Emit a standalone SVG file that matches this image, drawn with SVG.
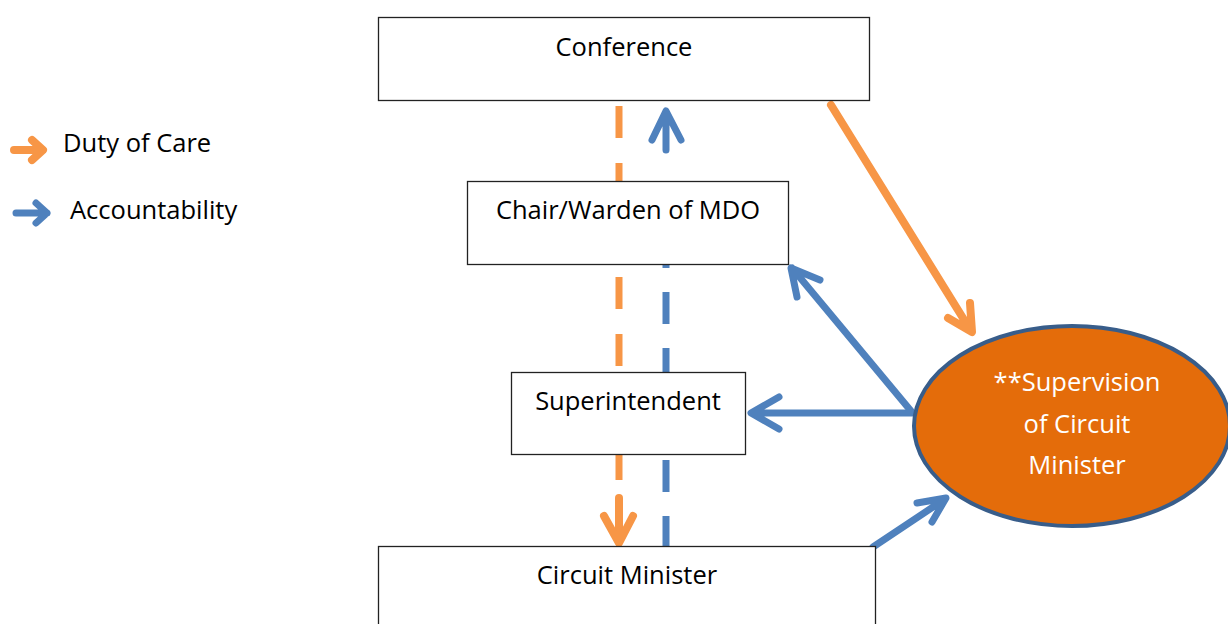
<svg xmlns="http://www.w3.org/2000/svg" width="1228" height="624" viewBox="0 0 1228 624">
<style>
.box{fill:#fff;stroke:#222;stroke-width:1.3}
.t{font-family:"Open Sans","Liberation Sans",Arial,sans-serif;font-size:25.5px;fill:#000;text-anchor:middle}
.lt{font-family:"Open Sans","Liberation Sans",Arial,sans-serif;font-size:25.5px;fill:#000}
.wt{font-family:"Open Sans","Liberation Sans",Arial,sans-serif;font-size:25.5px;fill:#fff;text-anchor:middle}
.or{stroke:#F79646;stroke-width:8;fill:none;stroke-linecap:round;stroke-linejoin:round}
.bl{stroke:#4F81BD;stroke-width:7;fill:none;stroke-linecap:round;stroke-linejoin:round}
.ordash{stroke:#F79646;stroke-width:7;fill:none;stroke-dasharray:32 25}
.bldash{stroke:#4F81BD;stroke-width:7;fill:none;stroke-dasharray:32 24}
</style>
<rect width="1228" height="624" fill="#fff"/>
<g id="legend">
<path class="or" d="M14 150 H42 M32 140 L43 150 L32 160"/>
<text class="lt" x="63" y="152">Duty of Care</text>
<path class="bl" d="M16 213 H47 M36 203 L47 213 L36 223"/>
<text class="lt" x="70" y="219">Accountability</text>
</g>
<g id="connectors">
<path class="ordash" d="M619 106 V505"/>
<path class="or" d="M619 498 V540"/>
<path class="or" d="M604 516 L619 543 L633 516"/>
<path class="bldash" d="M666 548 V265"/>
<path class="bl" d="M666 112 V150 M652 140 L666 111 L681 140"/>
<path class="or" d="M831 105 L971 331 M948 318 L972 332 L970 303"/>
<path class="bl" d="M911 411 L792 268 M820 280 L791 268 L797 297"/>
<path class="bl" d="M912 413 H752 M779 397 L751 413 L779 429"/>
<path class="bl" d="M873 547 L945 499 M917 503 L946 498 L932 522"/>
</g>
<g id="conference">
<rect class="box" x="378.5" y="17.5" width="491" height="83"/>
<text class="t" x="624" y="56">Conference</text>
</g>
<g id="chair">
<rect class="box" x="467.5" y="181.5" width="321" height="83"/>
<text class="t" x="628" y="219">Chair/Warden of MDO</text>
</g>
<g id="superintendent">
<rect class="box" x="511.5" y="372.5" width="234" height="82"/>
<text class="t" x="628" y="410">Superintendent</text>
</g>
<g id="circuit-minister">
<rect class="box" x="378.5" y="546.5" width="497" height="90"/>
<text class="t" x="627" y="584">Circuit Minister</text>
</g>
<g id="supervision">
<ellipse cx="1072" cy="426" rx="158" ry="100" fill="#E46C0A" stroke="#385D8A" stroke-width="4"/>
<text class="wt" x="1077" y="391">**Supervision</text>
<text class="wt" x="1077" y="433">of Circuit</text>
<text class="wt" x="1077" y="474">Minister</text>
</g>
</svg>
